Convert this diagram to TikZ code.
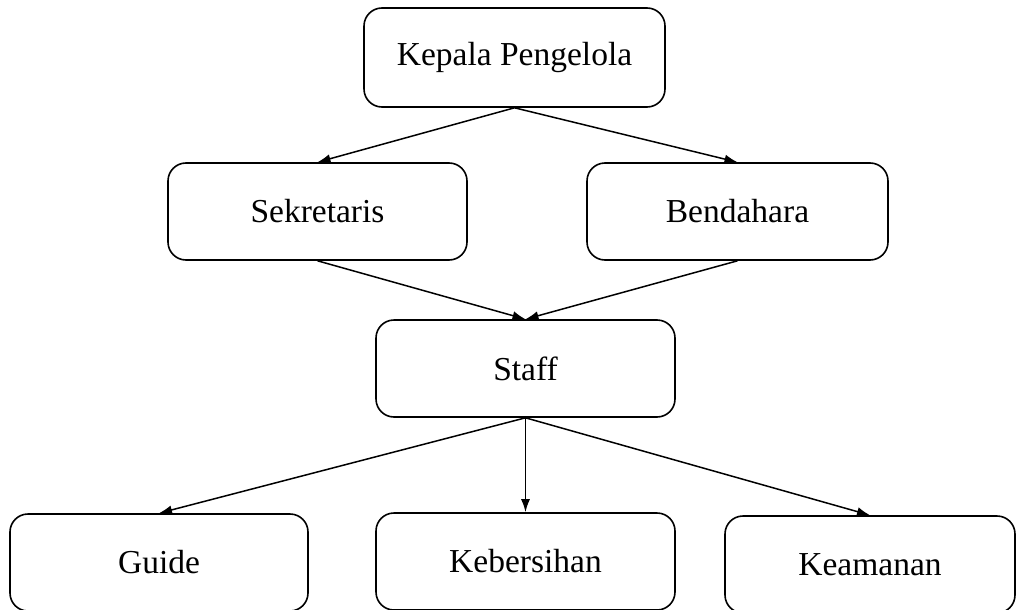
\documentclass[tikz,border=0pt]{standalone}
\usepackage{fontspec}
\setmainfont{Liberation Serif}
\usetikzlibrary{arrows.meta}
\begin{document}
\begin{tikzpicture}[x=1pt,y=-1pt,
  orgbox/.style={draw, line width=1.6pt, rounded corners=18pt, minimum width=299pt, minimum height=97pt, inner sep=0pt, font=\fontsize{33.5}{40}\selectfont},
  link/.style={line width=1.5pt, -{Latex[length=13pt,width=9pt]}}]
\useasboundingbox (0,0) rectangle (1017,610);
\node[orgbox, minimum width=301pt, minimum height=99pt] (kep) at (514.5,57.5) {Kepala Pengelola};
\node[orgbox] (sek) at (317.5,211.5) {Sekretaris};
\node[orgbox, minimum width=301pt] (ben) at (737.5,211.5) {Bendahara};
\node[orgbox] (sta) at (525.5,368.5) {Staff};
\node[orgbox, minimum width=298pt] (gui) at (159,562.5) {Guide};
\node[orgbox] (keb) at (525.5,561.5) {Kebersihan};
\node[orgbox, minimum width=290pt] (kea) at (870,564.5) {Keamanan};
\draw[link] (kep.south) -- (sek.north);
\draw[link] (kep.south) -- (ben.north);
\draw[link] (sek.south) -- (sta.north);
\draw[link] (ben.south) -- (sta.north);
\draw[link] (sta.south) -- (gui.north);
\draw[link] (sta.south) -- (keb.north);
\draw[link] (sta.south) -- (kea.north);
\end{tikzpicture}
\end{document}
